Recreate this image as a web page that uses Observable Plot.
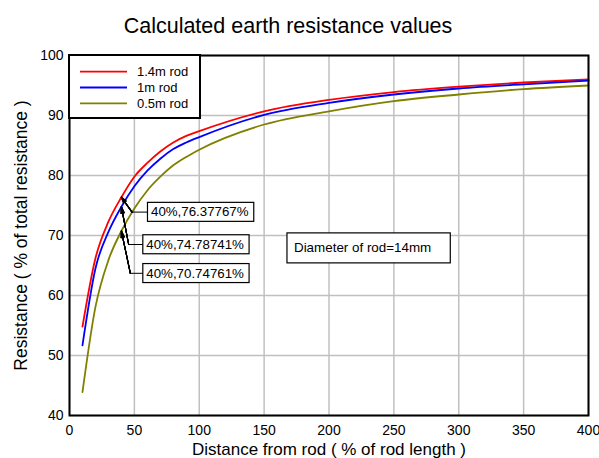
<!DOCTYPE html>
<html>
<head>
<meta charset="utf-8">
<script src="https://cdn.jsdelivr.net/npm/d3@7"></script>
<script src="https://cdn.jsdelivr.net/npm/@observablehq/plot@0.6"></script>
<style>
  html, body { margin: 0; padding: 0; background: white; }
</style>
</head>
<body>
<div id="chart"></div>
<script>
// ---- data ----
const distances = [10, 20, 30, 40, 50, 60, 70, 80, 90, 100, 150, 200, 250, 300, 350, 400];
const rod14 = [54.8, 66.2, 72.3, 76.37767, 79.8, 82.1, 84.0, 85.5, 86.6, 87.4, 90.7, 92.6, 93.9, 94.8, 95.5, 96.0];
const rod10 = [51.7, 64.5, 70.6, 74.78741, 78.2, 80.8, 82.8, 84.4, 85.5, 86.4, 90.1, 92.1, 93.5, 94.5, 95.2, 95.8];
const rod05 = [43.9, 58.1, 65.9, 70.74761, 74.5, 77.5, 79.8, 81.7, 83.1, 84.3, 88.5, 90.7, 92.4, 93.5, 94.4, 95.0];
const seriesNames = ["1.4m rod", "1m rod", "0.5m rod"];
const seriesColors = ["#ff0000", "#0000ff", "#808000"];
const xTicks = [0, 50, 100, 150, 200, 250, 300, 350, 400];
const yTicks = [40, 50, 60, 70, 80, 90, 100];

// annotation points (40%) and label placement
const annotX = [40, 40, 40];
const annotY = [76.37767, 74.78741, 70.74761];
const labelX = [62.8, 59.2, 59.2];
const labelY = [73.9, 68.5, 63.7];
const elbowX = [48.2, 45.6, 46.9];
const noteText = "Diameter of rod=14mm";
const noteX = 173, noteY = 67.9;

const titleText = "Calculated earth resistance values";
const xLabel = "Distance from rod ( % of rod length )";
const yLabel = "Resistance ( % of total resistance )";

// ---- build tables ----
const allSeries = [rod14, rod10, rod05];
const rows = [];
allSeries.forEach((vals, i) => vals.forEach((v, j) => rows.push({x: distances[j], y: v, s: seriesNames[i]})));
const annots = annotX.map((x, i) => ({
  px: x, py: annotY[i], tx: labelX[i], ty: labelY[i], ex: elbowX[i],
  label: `${x}%,${annotY[i]}%`
}));

const headAngles = [4, 10, 16, 22, 28, 32];

const chart = Plot.plot({
  width: 599, height: 458,
  marginLeft: 69, marginRight: 11, marginTop: 55, marginBottom: 43,
  style: {fontFamily: "'Liberation Sans', Arial, sans-serif", fontSize: "14px", color: "black", background: "white", overflow: "visible"},
  x: {domain: [0, 400]},
  y: {domain: [40, 100]},
  color: {domain: seriesNames, range: seriesColors},
  marks: [
    Plot.gridX(xTicks, {stroke: "#c0c0c0", strokeOpacity: 1, strokeWidth: 1.5}),
    Plot.gridY(yTicks, {stroke: "#c0c0c0", strokeOpacity: 1, strokeWidth: 1.5}),
    Plot.axisX(xTicks, {tickSize: 0, tickPadding: 10, label: null, fontSize: 14}),
    Plot.axisY(yTicks, {tickSize: 0, tickPadding: 6, label: null, fontSize: 14}),
    Plot.line(rows, {x: "x", y: "y", stroke: "s", z: "s", strokeWidth: 1.8, curve: "monotone-x"}),
    Plot.link(annots, {x1: "ex", y1: "ty", x2: "tx", y2: "ty", stroke: "black", strokeWidth: 1}),
    ...headAngles.map(a => Plot.arrow(annots, {x1: "ex", y1: "ty", x2: "px", y2: "py", stroke: "black", strokeWidth: 1.1, headLength: 9, headAngle: a})),
    Plot.text(annots, {x: "tx", y: "ty", text: "label", textAnchor: "start", fontSize: 13.3, fill: "black", className: "annot"}),
    Plot.text([noteText], {x: noteX, y: noteY, text: d => d, textAnchor: "start", fontSize: 13.4, fill: "black", className: "note"}),
    Plot.frame({stroke: "black", strokeWidth: 2}),
    Plot.text([titleText], {frameAnchor: "top", lineAnchor: "middle", textAnchor: "middle", text: d => d, dy: -29.7, dx: -41, fontSize: 21.5, fill: "black"}),
    Plot.text([xLabel], {frameAnchor: "bottom", lineAnchor: "middle", textAnchor: "middle", text: d => d, dy: 34, fontSize: 17, fill: "black"}),
    Plot.text([yLabel], {frameAnchor: "left", lineAnchor: "middle", textAnchor: "middle", text: d => d, dx: -48.4, rotate: -90, fontSize: 17.5, fill: "black"})
  ]
});

document.getElementById("chart").appendChild(chart);

// boxes behind annotation texts
const svg = d3.select(chart);
function boxify(cls, padL, padR, padT, padB) {
  svg.selectAll(`g.${cls} text`).each(function() {
    const bb = this.getBBox();
    const rect = document.createElementNS("http://www.w3.org/2000/svg", "rect");
    rect.setAttribute("x", bb.x - padL);
    rect.setAttribute("y", bb.y - padT);
    rect.setAttribute("width", bb.width + padL + padR);
    rect.setAttribute("height", bb.height + padT + padB);
    rect.setAttribute("fill", "white");
    rect.setAttribute("stroke", "black");
    rect.setAttribute("stroke-width", 1.2);
    const t = this.getAttribute("transform");
    if (t) rect.setAttribute("transform", t);
    this.parentNode.insertBefore(rect, this);
  });
}
boxify("annot", 3.5, 5, 2, 2);
boxify("note", 7, 19, 7.5, 7.5);

// legend inside plot (top-left)
const lg = svg.append("g").attr("text-anchor", "start");
const L = 69, T = 55;
lg.append("rect").attr("x", L).attr("y", T).attr("width", 131).attr("height", 63)
  .attr("fill", "white").attr("stroke", "black").attr("stroke-width", 2);
seriesNames.forEach((name, i) => {
  const yy = T + 16.7 + i * 15.8;
  lg.append("line").attr("x1", L + 11).attr("x2", L + 58).attr("y1", yy).attr("y2", yy)
    .attr("stroke", seriesColors[i]).attr("stroke-width", 1.8);
  lg.append("text").attr("x", L + 68).attr("y", yy).attr("dy", "0.35em")
    .attr("text-anchor", "start")
    .attr("font-size", 13).attr("fill", "black").text(name);
});
</script>
</body>
</html>
